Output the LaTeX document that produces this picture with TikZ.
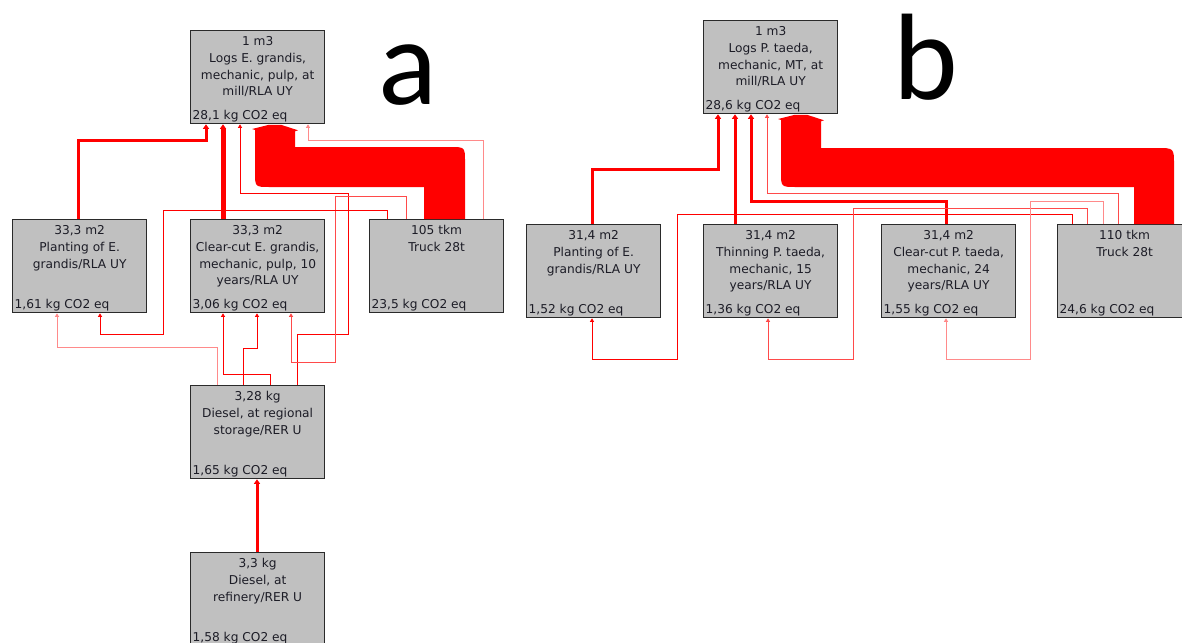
\documentclass[tikz,border=0pt]{standalone}
\usepackage{fontspec}
\setmainfont{DejaVu Sans}
\newfontfamily\labfont{Carlito}
\usetikzlibrary{arrows.meta,calc}
\definecolor{boxgray}{HTML}{C0C0C0}
\definecolor{boxedge}{HTML}{2A2A2A}
\definecolor{txt}{HTML}{1C1C26}
\definecolor{fullred}{HTML}{FF0000}
\definecolor{midred}{HTML}{FF4A4A}
\definecolor{lightred}{HTML}{FF8A8A}
\tikzset{
  pbox/.style={rectangle, anchor=north west, minimum width=134pt, minimum height=93pt,
    inner sep=0pt, fill=boxgray, draw=boxedge, line width=1.3pt},
  ptop/.style={anchor=north, align=center, inner sep=0pt, text=txt,
    font={\fontsize{12.2}{16.7}\selectfont}},
  pbot/.style={anchor=base west, inner sep=0pt, text=txt,
    font={\fontsize{12.2}{14}\selectfont}},
  thinflow/.style={draw=#1, line width=1pt, -{Triangle[width=4pt,length=3.5pt]}},
  thickflow/.style={draw=fullred, line width=#1, -{Triangle[width=6pt,length=4.5pt]}},
  band/.style={fill=fullred, draw=none},
  panellabel/.style={anchor=base west, inner sep=0pt, font={\labfont\fontsize{123}{123}\selectfont}, text=black}
}
\newcommand\procbox[5]{%
  \node[pbox] (#1) at (#2,#3) {};
  \node[ptop] (#1t) at ($(#1.north)+(0,3.5)$) {\rule{0pt}{12pt}#4};
  \node[pbot] (#1b) at ($(#1.south west)+(2.5,-4.7)$) {#5};
}
\begin{document}
\begin{tikzpicture}[x=1pt,y=-1pt]
\useasboundingbox (0,0) rectangle (1182,642);
\fill[white] (0,0) rectangle (1182,642);
\clip (0,0) rectangle (1182,642);

% ---------- panel a ----------
\procbox{A0}{190}{30}{1 m3\\Logs E. grandis,\\mechanic, pulp, at\\mill/RLA UY}{28,1 kg CO2 eq}
\procbox{A1}{12}{219}{33,3 m2\\Planting of E.\\grandis/RLA UY}{1,61 kg CO2 eq}
\procbox{A2}{190}{219}{33,3 m2\\Clear-cut E. grandis,\\mechanic, pulp, 10\\years/RLA UY}{3,06 kg CO2 eq}
\procbox{A3}{369}{219}{105 tkm\\Truck 28t}{23,5 kg CO2 eq}
\procbox{A4}{190}{385}{3,28 kg\\Diesel, at regional\\storage/RER U}{1,65 kg CO2 eq}
\procbox{A5}{190}{552}{3,3 kg\\Diesel, at\\refinery/RER U}{1,58 kg CO2 eq}

\node[panellabel] (la) at (378.5,104) {a};

% band truck -> logs
\path[band] (A0.south -| 275,0) ++(-6,0.5) -- ++(12,0) -- ++(17,5.5) -- ++(-3,1)
  -- (295,147) -- (450,147) .. controls (465,147) .. (465,162)
  -- (A3.north -| 465,0) -- (A3.north -| 424,0) -- (424,187) -- (270,187)
  .. controls (255,187) .. (255,172) -- (255,130) -- ++(-3,-1) -- cycle;

% connectors
\draw[thickflow=3pt] (A1.north -| 78,0) -- (78,140) -- (206,140) -- (A0.south -| 206,0);
\draw[thickflow=5pt] (A2.north -| 223,0) -- (A0.south -| 223,0);
\draw[thinflow=fullred] (A4.north -| 297,0) -- (297,334) -- (348,334) -- (348,193) -- (240,193) -- (A0.south -| 240,0);
\draw[thinflow=lightred] (A3.north -| 483,0) -- (483,140) -- (308,140) -- (A0.south -| 308,0);
\draw[thinflow=midred] (A3.north -| 406,0) -- (406,196) -- (335,196) -- (335,362) -- (291,362) -- (A2.south -| 291,0);
\draw[thinflow=fullred] (A3.north -| 387,0) -- (387,210) -- (163,210) -- (163,334) -- (100,334) -- (A1.south -| 100,0);
\draw[thinflow=lightred] (A4.north -| 217,0) -- (217,347) -- (57,347) -- (A1.south -| 57,0);
\draw[thinflow=fullred] (A4.north -| 270,0) -- (270,374) -- (223,374) -- (A2.south -| 223,0);
\draw[thinflow=fullred] (A4.north -| 243,0) -- (243,348) -- (257,348) -- (A2.south -| 257,0);
\draw[thickflow=3pt] (A5.north -| 257,0) -- (A4.south -| 257,0);

% ---------- panel b ----------
\procbox{B0}{703}{20}{1 m3\\Logs P. taeda,\\mechanic, MT, at\\mill/RLA UY}{28,6 kg CO2 eq}
\procbox{B1}{526}{224}{31,4 m2\\Planting of E.\\grandis/RLA UY}{1,52 kg CO2 eq}
\procbox{B2}{703}{224}{31,4 m2\\Thinning P. taeda,\\mechanic, 15\\years/RLA UY}{1,36 kg CO2 eq}
\procbox{B3}{881}{224}{31,4 m2\\Clear-cut P. taeda,\\mechanic, 24\\years/RLA UY}{1,55 kg CO2 eq}
\procbox{B4}{1057}{224}{110 tkm\\Truck 28t}{24,6 kg CO2 eq}

\node[panellabel] (lb) at (893,99) {b};

\path[band] (B0.south -| 801,0) ++(-6,0.5) -- ++(12,0) -- ++(17,5.5) -- ++(-3,1)
  -- (821,148) -- (1157,148) .. controls (1174,148) .. (1174,165)
  -- (B4.north -| 1174,0) -- (B4.north -| 1134,0) -- (1134,187) -- (796,187)
  .. controls (781,187) .. (781,172) -- (781,120) -- ++(-3,-1) -- cycle;

\draw[thickflow=3pt] (B1.north -| 592,0) -- (592,169) -- (718,169) -- (B0.south -| 718,0);
\draw[thickflow=3pt] (B2.north -| 735,0) -- (B0.south -| 735,0);
\draw[thickflow=3pt] (B3.north -| 946,0) -- (946,201) -- (751,201) -- (B0.south -| 751,0);
\draw[thinflow=midred] (B4.north -| 1118,0) -- (1118,193) -- (767,193) -- (B0.south -| 767,0);
\draw[thinflow=fullred] (B4.north -| 1072,0) -- (1072,214) -- (677,214) -- (677,359) -- (592,359) -- (B1.south -| 592,0);
\draw[thinflow=midred] (B4.north -| 1087,0) -- (1087,208) -- (853,208) -- (853,359) -- (768,359) -- (B2.south -| 768,0);
\draw[thinflow=lightred] (B4.north -| 1103,0) -- (1103,201) -- (1030,201) -- (1030,359) -- (946,359) -- (B3.south -| 946,0);
\end{tikzpicture}
\end{document}
